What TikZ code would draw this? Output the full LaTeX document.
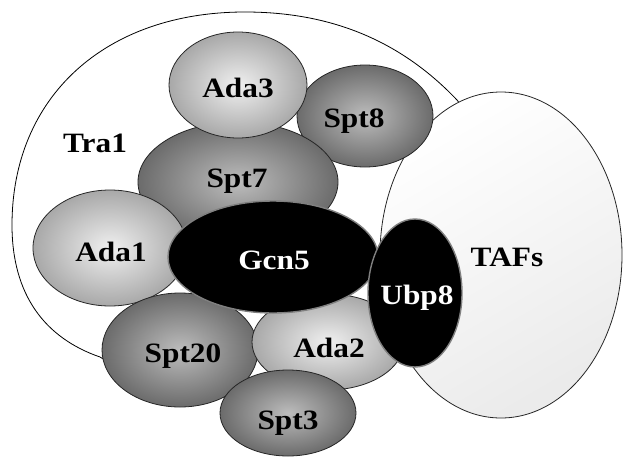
\documentclass[tikz,border=0pt]{standalone}
\usepackage{fontspec}
\newfontfamily\protfont[FakeStretch=1.12]{Liberation Serif}
\usetikzlibrary{shapes.geometric}
\tikzset{
    prot/.style={ellipse, draw=black!85, line width=0.8pt, inner sep=0pt},
    lite/.style={prot, inner color=black!6, outer color=black!34},
    dark/.style={prot, inner color=black!26, outer color=black!58},
    core/.style={prot, fill=black, draw=black!50, line width=1.4pt},
    lbl/.style={font=\protfont\bfseries\fontsize{28}{30}\selectfont, inner sep=0pt, text height=19pt, text depth=0pt},
    wlbl/.style={lbl, text=white}
}
\begin{document}
\begin{tikzpicture}[x=1pt, y=-1pt]
    \useasboundingbox (0,0) rectangle (624,461);
    \draw[line width=0.8pt, fill=white] (457,100) .. controls (400,40) and (330,12) .. (245,12)
        .. controls (105,12) and (12,97) .. (12,225)
        .. controls (12,295) and (45,338) .. (100,357)
        .. controls (150,390) and (300,395) .. (380,330)
        .. controls (470,280) and (480,125) .. cycle;
    \node[lbl] (tra1) at (95,143) {Tra1};
    \node[prot, top color=white, bottom color=black!8, shading angle=30, minimum width=242pt, minimum height=326pt] (tafs) at (501,255) {};
    \node[lbl] (tafslbl) at (507,257) {TAFs};
    \node[dark, minimum width=136pt, minimum height=102pt] (spt8) at (365,116) {};
    \node[lbl] (spt8lbl) at (354,118) {Spt8};
    \node[dark, minimum width=200pt, minimum height=120pt] (spt7) at (238,182) {};
    \node[lbl] (spt7lbl) at (237,178) {Spt7};
    \node[lite, minimum width=138pt, minimum height=106pt] (ada3) at (238,85) {};
    \node[lbl] (ada3lbl) at (238,88) {Ada3};
    \node[lite, minimum width=154pt, minimum height=116pt] (ada1) at (110,248) {};
    \node[lbl] (ada1lbl) at (111,252) {Ada1};
    \node[dark, minimum width=156pt, minimum height=114pt] (spt20) at (180,350) {};
    \node[lbl] (spt20lbl) at (183,353) {Spt20};
    \node[lite, minimum width=152pt, minimum height=96pt] (ada2) at (328,342) {};
    \node[lbl] (ada2lbl) at (329,348) {Ada2};
    \node[dark, minimum width=136pt, minimum height=86pt] (spt3) at (288,413) {};
    \node[lbl] (spt3lbl) at (288,420) {Spt3};
    \node[core, minimum width=210pt, minimum height=112pt] (gcn5) at (273,257) {};
    \node[wlbl] (gcn5lbl) at (274,260) {Gcn5};
    \node[core, minimum width=94pt, minimum height=148pt] (ubp8) at (415,293) {};
    \node[wlbl] (ubp8lbl) at (417,295) {Ubp8};
\end{tikzpicture}
\end{document}
